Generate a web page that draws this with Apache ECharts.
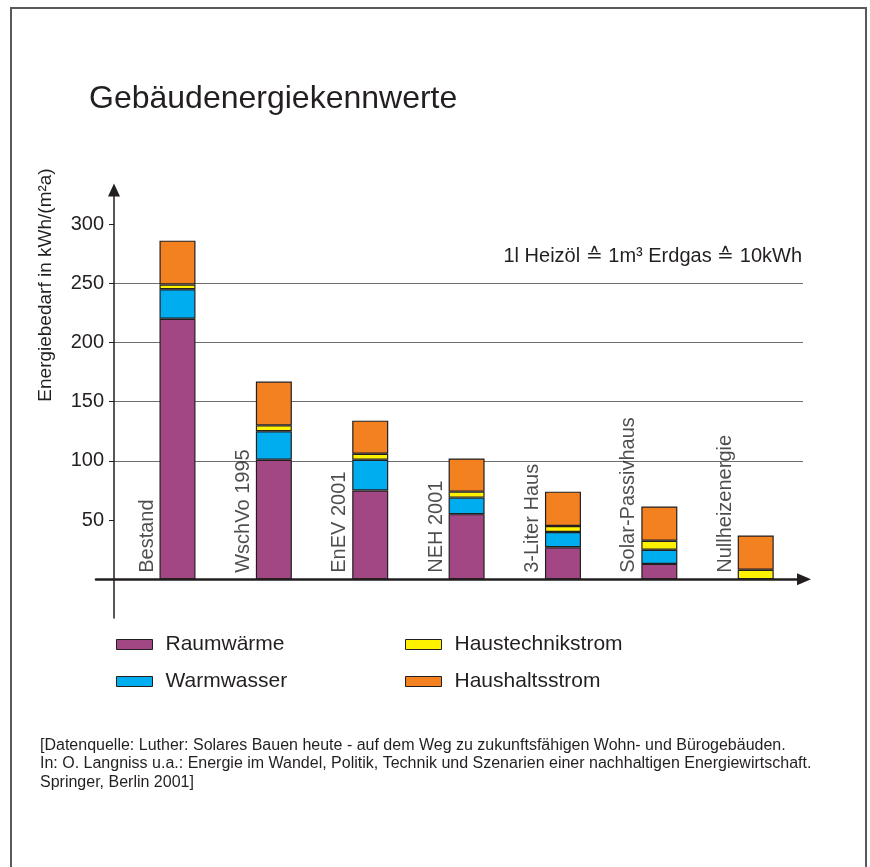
<!DOCTYPE html>
<html>
<head>
<meta charset="utf-8">
<title>Gebäudenergiekennwerte</title>
<script src="https://cdn.jsdelivr.net/npm/echarts@6/dist/echarts.min.js"></script>
<style>
  html, body { margin: 0; padding: 0; background: #fff; }
  #chart_1 { width: 870px; height: 867px; }
</style>
</head>
<body>
<div id="chart_1"></div>
<script>
// Werte in kWh/(m²a)
var categories = ["Bestand", "WschVo 1995", "EnEV 2001", "NEH 2001", "3-Liter Haus", "Solar-Passivhaus", "Nullheizenergie"];
var raumwaerme = [220, 101, 75, 55, 27, 13, 0];
var warmwasser = [25, 24, 26, 14, 13, 12, 0];
var haustechnikstrom = [4, 5, 5, 5, 5, 7.5, 8];
var haushaltsstrom = [37, 37, 28, 28, 29, 29, 29];
var yTicks = [50, 100, 150, 200, 250, 300];

var fontName = "Liberation Sans, Arial, sans-serif";
var textColor = "#231f20";
var yMin = -32.7;
var yMax = 328.8;

function stackSeries(name, values, color) {
  return {
    name: name,
    type: "bar",
    stack: "total",
    xAxisIndex: 1,
    yAxisIndex: 1,
    barWidth: 36,
    data: values,
    itemStyle: { color: color, borderColor: textColor, borderWidth: 1.2 },
    emphasis: { disabled: true },
    z: 3
  };
}

var chartDom = document.getElementById("chart_1");
var myChart = echarts.init(chartDom);

var option = {
  animation: false,
  backgroundColor: "#fff",
  title: [
    {
      text: "Gebäudenergiekennwerte",
      left: 89, top: 83, padding: 0,
      textStyle: { fontSize: 32, fontWeight: "normal", color: textColor, fontFamily: fontName }
    },
    {
      text: "1l Heizöl ≙ 1m³ Erdgas ≙ 10kWh",
      right: 68, top: 246, padding: 0,
      textStyle: { fontSize: 20, fontWeight: "normal", color: textColor, fontFamily: fontName }
    },
    {
      text: "[Datenquelle: Luther: Solares Bauen heute - auf dem Weg zu zukunftsfähigen Wohn- und Bürogebäuden.\n" +
        "In: O. Langniss u.a.: Energie im Wandel, Politik, Technik und Szenarien einer nachhaltigen Energiewirtschaft.\n" +
        "Springer, Berlin 2001]",
      left: 40, top: 736, padding: 0,
      textStyle: { fontSize: 16, lineHeight: 18.5, fontWeight: "normal", color: textColor, fontFamily: fontName }
    }
  ],
  legend: [
    {
      data: ["Raumwärme", "Warmwasser"],
      orient: "vertical", left: 116, top: 634, padding: 0,
      itemWidth: 36, itemHeight: 10, itemGap: 16, icon: "rect", selectedMode: false,
      itemStyle: { borderColor: textColor, borderWidth: 1 },
      textStyle: { fontSize: 21, color: textColor, fontFamily: fontName, padding: [0, 0, 0, 8] }
    },
    {
      data: ["Haustechnikstrom", "Haushaltsstrom"],
      orient: "vertical", left: 405, top: 634, padding: 0,
      itemWidth: 36, itemHeight: 10, itemGap: 16, icon: "rect", selectedMode: false,
      itemStyle: { borderColor: textColor, borderWidth: 1 },
      textStyle: { fontSize: 21, color: textColor, fontFamily: fontName, padding: [0, 0, 0, 8] }
    }
  ],
  grid: [
    // Achse mit Gitterlinien
    { left: 114, right: 67, top: 190, bottom: 249 },
    // Säulen
    { left: 129.3, right: 66.1, top: 190, bottom: 249 },
    // x-Achse mit Pfeil
    { left: 96, right: 66, top: 190, bottom: 249 }
  ],
  xAxis: [
    { type: "value", gridIndex: 0, min: 0, max: 1, show: false },
    { type: "category", gridIndex: 1, data: categories, boundaryGap: true, show: false },
    {
      type: "value", gridIndex: 2, min: 0, max: 1,
      axisLine: {
        show: true, onZero: true, onZeroAxisIndex: 2,
        symbol: ["none", "triangle"], symbolSize: [12, 14],
        lineStyle: { color: textColor, width: 2.5 }
      },
      axisTick: { show: false },
      axisLabel: { show: false },
      splitLine: { show: false }
    }
  ],
  yAxis: [
    {
      type: "value", gridIndex: 0, min: yMin, max: yMax,
      splitNumber: 7, minInterval: 50, maxInterval: 50,
      axisLine: {
        show: true, onZero: false,
        symbol: ["none", "triangle"], symbolSize: [12, 13],
        lineStyle: { color: textColor, width: 1.5 }
      },
      axisTick: { show: true, length: 5, customValues: yTicks, lineStyle: { color: textColor, width: 1 } },
      axisLabel: { customValues: yTicks, fontSize: 20, color: textColor, margin: 10, fontFamily: fontName },
      splitLine: {
        show: true, showMinLine: false, showMaxLine: false,
        lineStyle: { color: "#6d6e71", width: 1.2 }
      }
    },
    { type: "value", gridIndex: 1, min: yMin, max: yMax, show: false },
    { type: "value", gridIndex: 2, min: yMin, max: yMax, show: false }
  ],
  graphic: [
    {
      type: "rect", silent: true, z: -10,
      shape: { x: 11, y: 8, width: 855, height: 900 },
      style: { fill: "none", stroke: "#58595b", lineWidth: 2 }
    },
    {
      type: "text", silent: true,
      x: 46, y: 285, rotation: Math.PI / 2,
      style: {
        text: "Energiebedarf in kWh/(m²a)",
        fontSize: 19, fontFamily: fontName, fill: textColor,
        align: "center", verticalAlign: "middle"
      }
    }
  ],
  series: [
    stackSeries("Raumwärme", raumwaerme, "#a34784"),
    stackSeries("Warmwasser", warmwasser, "#00aeef"),
    stackSeries("Haustechnikstrom", haustechnikstrom, "#fff200"),
    stackSeries("Haushaltsstrom", haushaltsstrom, "#f38120"),
    {
      // Kategorienamen senkrecht links neben den Säulen
      type: "scatter",
      xAxisIndex: 1,
      yAxisIndex: 1,
      symbolSize: 1,
      silent: true,
      itemStyle: { color: "transparent" },
      data: categories.map(function (c) { return { name: c, value: 0 }; }),
      label: {
        show: true, formatter: "{b}", position: [-30, -6], rotate: 90,
        align: "left", verticalAlign: "middle",
        fontSize: 20, color: textColor, fontFamily: fontName
      },
      z: 5
    }
  ]
};

myChart.setOption(option);
</script>
</body>
</html>
